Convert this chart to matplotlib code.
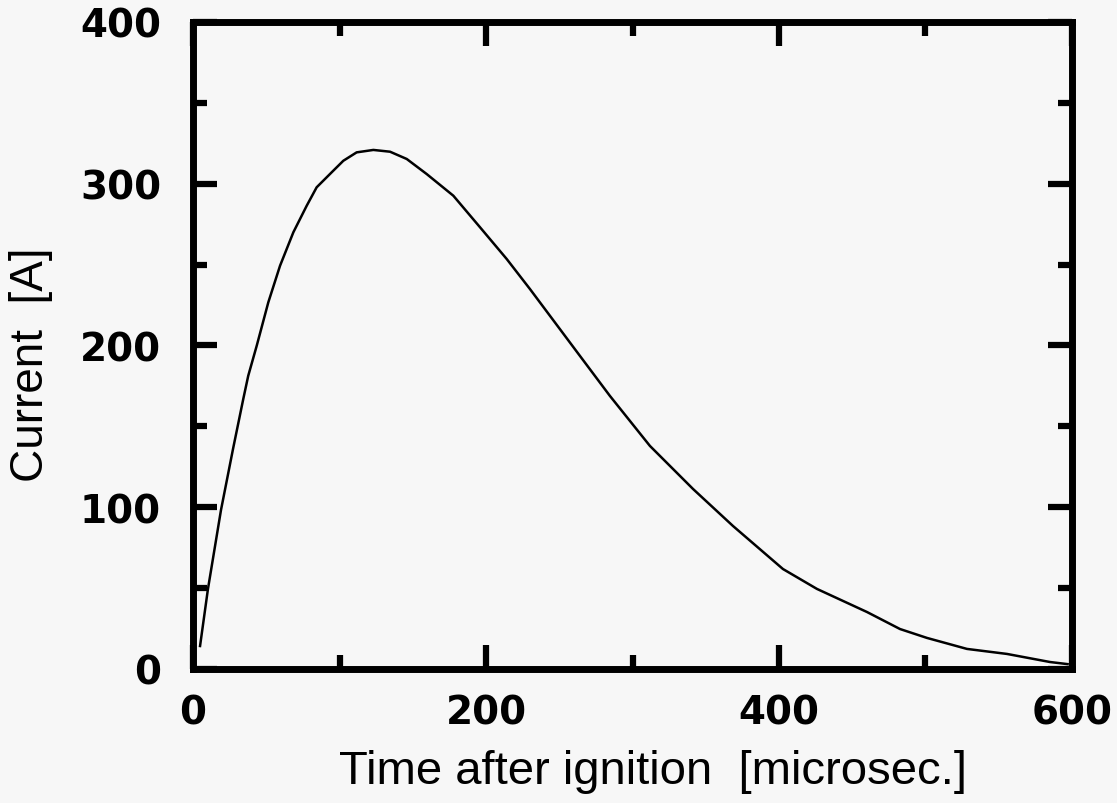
import matplotlib
matplotlib.use("Agg")
import matplotlib.pyplot as plt
from matplotlib.ticker import MultipleLocator

time_us = [4.8, 10.2, 19.1, 27.3, 34.3, 37.7, 43.5, 51.4, 59.4, 68.5, 77.6, 84.4,
           95.8, 102.6, 111.7, 123.1, 134.5, 145.9, 159.5, 177.7, 195.9, 214.1,
           230.0, 262.1, 284.6, 311.9, 341.3, 368.6, 402.7, 425.9, 460.1, 482.6,
           501.0, 528.3, 555.6, 585.0, 597.0]
current_a = [14.2, 49.5, 98.3, 136.0, 166.9, 181.3, 199.9, 226.7, 249.3, 270.0,
             286.4, 297.8, 308.1, 314.2, 319.4, 320.9, 319.8, 315.3, 306.0, 292.6,
             273.1, 253.5, 234.9, 196.0, 168.8, 137.9, 111.3, 88.4, 61.8, 49.5,
             35.2, 24.7, 19.2, 12.4, 9.3, 4.3, 3.0]

x_ticks = [0, 200, 400, 600]
y_ticks = [0, 100, 200, 300, 400]

BG = "#f7f7f7"

fig = plt.figure(figsize=(11.17, 8.04), dpi=100, facecolor=BG)
ax = fig.add_axes([0.1728, 0.1667, 0.7869, 0.8047], facecolor=BG)

ax.plot(time_us, current_a, color="black", linewidth=1.8)

ax.set_xlim(0, 600)
ax.set_ylim(0, 400)
ax.set_xticks(x_ticks)
ax.set_yticks(y_ticks)
ax.xaxis.set_minor_locator(MultipleLocator(100))
ax.yaxis.set_minor_locator(MultipleLocator(50))

for s in ax.spines.values():
    s.set_linewidth(5)

ax.tick_params(which="both", direction="in", top=True, right=True, width=4.5)
ax.tick_params(which="major", length=17)
ax.tick_params(which="minor", length=10)
ax.tick_params(axis="y", which="major", pad=23)
ax.tick_params(axis="x", which="major", pad=18)

for lab in ax.get_xticklabels() + ax.get_yticklabels():
    lab.set_fontsize(28)
    lab.set_fontweight("bold")

ax.set_xlabel("Time after ignition  [microsec.]", fontsize=34,
              family="Liberation Sans", va="center")
ax.xaxis.set_label_coords(0.523, -0.158)
ax.set_ylabel("Current  [A]", fontsize=33, family="Liberation Sans",
              va="center")
ax.yaxis.set_label_coords(-0.184, 0.472)

fig.savefig("out.png", dpi=100, facecolor=BG)
